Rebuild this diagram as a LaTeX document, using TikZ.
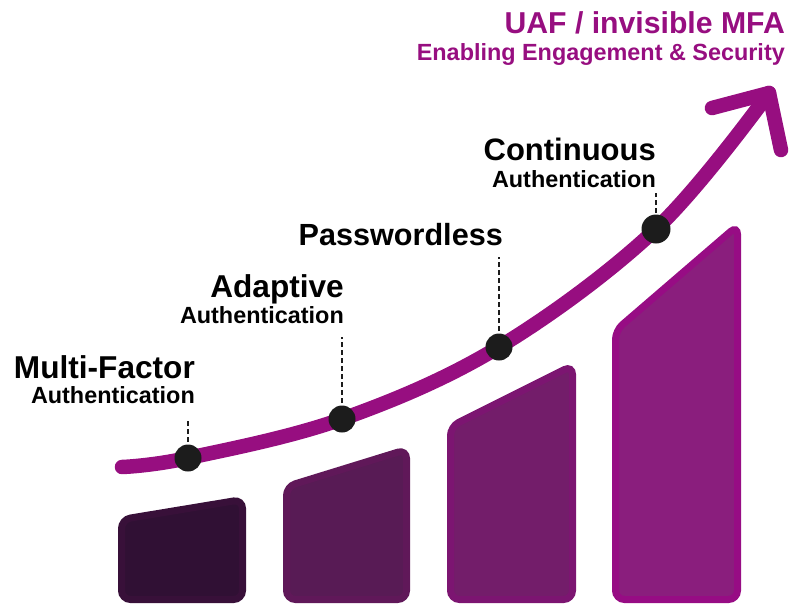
\documentclass[tikz,border=0pt]{standalone}
\usepackage{fontspec}
\setmainfont{Liberation Sans}
\usetikzlibrary{positioning}
\definecolor{plum}{HTML}{970E80}
\definecolor{dotgray}{HTML}{1C1C1C}
\definecolor{barA}{HTML}{301034}
\definecolor{barAe}{HTML}{381039}
\definecolor{barB}{HTML}{581B55}
\definecolor{barBe}{HTML}{601859}
\definecolor{barC}{HTML}{731D6A}
\definecolor{barCe}{HTML}{7C1571}
\definecolor{barD}{HTML}{8A1E7D}
\definecolor{barDe}{HTML}{970C84}

\begin{document}
\begin{tikzpicture}[x=1pt,y=-1pt,
  trend/.style={draw=plum,line width=14.5pt,line cap=round,line join=round},
  dot/.style={circle,fill=dotgray,minimum size=27pt,inner sep=0pt},
  leader/.style={draw=dotgray,line width=1.3pt,dash pattern=on 5pt off 3pt},
  big/.style={font=\fontsize{31.6}{33}\selectfont\bfseries,inner sep=0pt,anchor=base east},
  small/.style={font=\fontsize{23.4}{25}\selectfont\bfseries,inner sep=0pt,anchor=base east}]
\useasboundingbox (0,0) rectangle (800,605);

%\draw[help lines,step=50] (0,0) grid (800,605);

\foreach \xl/\xr/\yl/\yr/\fc/\dc in {118/246/516/496/barA/barAe,
  283/410/483/446/barB/barBe, 447/576/423/362/barC/barCe, 612/741/327/222/barD/barDe}
  \draw[line width=7pt,rounded corners=9pt,fill=\fc,draw=\dc] (\xl+3.5,599.5)
  -- (\xl+3.5,\yl+3.5) -- (\xr-3.5,\yr+3.5) -- (\xr-3.5,599.5) -- cycle;

\coordinate (start) at (122,467);
\coordinate (p1) at (188,458);
\coordinate (p2) at (342,419);
\coordinate (p3) at (499,347);
\coordinate (p4) at (656,229);
\coordinate (tip) at (769,93);
\draw[trend] plot[smooth,tension=0.6] coordinates {(start) (p1) (p2) (p3) (p4) (tip)};
\draw[trend] (712,108) -- (tip) -- (781,150);

\draw[leader] (p1) -- ++(0,-38);
\draw[leader] (p2) -- ++(0,-82);
\draw[leader] (p3) -- ++(0,-90);
\draw[leader] (p4) -- ++(0,-36);
\node[dot] (mfadot) at (p1) {};
\node[dot] (adaptdot) at (p2) {};
\node[dot] (pwdot) at (p3) {};
\node[dot,minimum size=29pt] (contdot) at (p4) {};

\node[big] (mfa) at (195,378) {Multi-Factor};
\node[small] (mfa2) at (195,403) {Authentication};
\node[big] (adapt) at (344,297) {Adaptive};
\node[small] (adapt2) at (344,323) {Authentication};
\node[big,font=\fontsize{30.6}{33}\selectfont\bfseries] (pwless) at (503,245) {Passwordless};
\node[big,font=\fontsize{31}{33}\selectfont\bfseries] (cont) at (656,160) {Continuous};
\node[small] (cont2) at (656,187) {Authentication};

\node[big,text=plum,font=\fontsize{30.2}{32}\selectfont\bfseries] (uaf) at (785,33) {UAF / invisible MFA};
\node[small,text=plum] (sub) at (785,60) {Enabling Engagement \& Security};
\end{tikzpicture}
\end{document}
